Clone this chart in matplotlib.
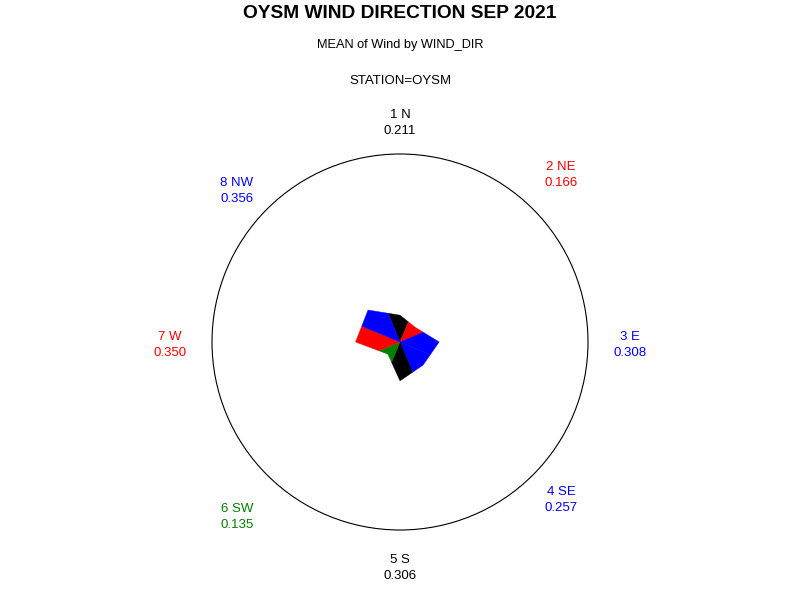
import numpy as np
import matplotlib
matplotlib.use("Agg")
import matplotlib.pyplot as plt
from matplotlib.patches import Polygon, Circle

plt.rcParams['font.family'] = ['Liberation Sans', 'DejaVu Sans']

# Data
directions = ["1 N", "2 NE", "3 E", "4 SE", "5 S", "6 SW", "7 W", "8 NW"]
angles_deg = [0, 45, 90, 135, 180, 225, 270, 315]
values = [0.211, 0.166, 0.308, 0.257, 0.306, 0.135, 0.350, 0.356]
colors = ["#000000", "#ff0000", "#0000ff", "#0000ff", "#000000", "#008000", "#ff0000", "#0000ff"]

title = "OYSM WIND DIRECTION SEP 2021"
subtitle = "MEAN of Wind by WIND_DIR"
byline = "STATION=OYSM"

# Layout (pixel scale)
W, H = 800, 600
cx, cy = 400, 342        # centre in pixels from top-left
scale = 127.0            # pixels per unit of value
R_circle = 188.0 / scale
# label centre offsets from chart centre in pixels (dx right, dy down), as in the reference
label_dx = [0, 161, 230, 161, 0, -163, -230, -163]
label_dy = [-219, -167, 3, 158, 226, 175, 3, -151]

fig = plt.figure(figsize=(8, 6), dpi=100)
ax = fig.add_axes([0, 0, 1, 1])
ax.set_xlim(-cx / scale, (W - cx) / scale)
ax.set_ylim(-(H - cy) / scale, cy / scale)
ax.axis('off')

th = np.radians(angles_deg)
vals = np.array(values)
P = np.column_stack([vals * np.sin(th), vals * np.cos(th)])
n = len(vals)

for i in range(n):
    ip = (i - 1) % n
    inx = (i + 1) % n
    d_prev = (vals[i] * P[ip] + vals[ip] * P[i]) / (vals[i] + vals[ip])
    d_next = (vals[inx] * P[i] + vals[i] * P[inx]) / (vals[i] + vals[inx])
    poly = Polygon([[0, 0], d_prev, P[i], d_next], closed=True,
                   facecolor=colors[i], edgecolor=colors[i], linewidth=0.3)
    ax.add_patch(poly)

ax.add_patch(Circle((0, 0), R_circle, fill=False, edgecolor='black', linewidth=0.8))

for i in range(n):
    lx = label_dx[i] / scale
    ly = -label_dy[i] / scale
    ax.text(lx, ly, f"{directions[i]}\n{values[i]:.3f}", color=colors[i],
            ha='center', va='center', fontsize=9.5, linespacing=1.5)

fig.text(0.5, 1 - 13 / H, title, ha='center', va='center', fontsize=13.8, fontweight='bold')
fig.text(0.5, 1 - 45 / H, subtitle, ha='center', va='center', fontsize=9.2)
fig.text(0.5, 1 - 81 / H, byline, ha='center', va='center', fontsize=9.5)

fig.savefig("out.png", dpi=100)
